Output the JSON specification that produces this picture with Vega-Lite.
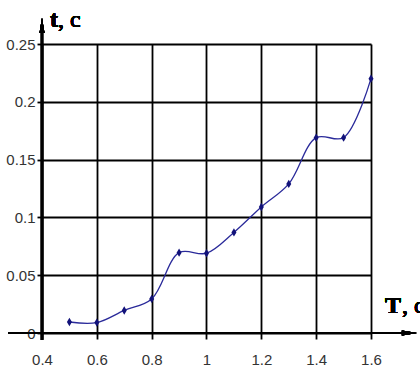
{
  "$schema": "https://vega.github.io/schema/vega-lite/v6.json",
  "width": 329,
  "height": 289,
  "autosize": {"type": "none"},
  "padding": {"left": 42, "top": 44, "right": 49, "bottom": 38},
  "background": "white",
  "config": {"view": {"stroke": null}},
  "data": {"values": [
    {"T": 0.5, "t": 0.0095},
    {"T": 0.6, "t": 0.009},
    {"T": 0.7, "t": 0.0195},
    {"T": 0.8, "t": 0.0295},
    {"T": 0.9, "t": 0.0695},
    {"T": 1.0, "t": 0.069},
    {"T": 1.1, "t": 0.087},
    {"T": 1.2, "t": 0.109},
    {"T": 1.3, "t": 0.129},
    {"T": 1.4, "t": 0.169},
    {"T": 1.5, "t": 0.169},
    {"T": 1.6, "t": 0.22}
  ]},
  "encoding": {
    "x": {
      "field": "T", "type": "quantitative",
      "scale": {"domain": [0.4, 1.6], "nice": false, "zero": false},
      "axis": {
        "title": null, "values": [0.4, 0.6, 0.8, 1.0, 1.2, 1.4, 1.6],
        "grid": true, "gridColor": "black", "gridWidth": 1.8, "gridOpacity": 1,
        "domain": false, "ticks": true, "tickColor": "black", "tickWidth": 1.8, "tickSize": 6,
        "labelFont": "Liberation Sans Narrow, Liberation Sans", "labelFontSize": 15, "labelColor": "#333",
        "labelPadding": 13, "labelFlush": false,
        "labelExpr": "datum.value == 1 ? '1' : format(datum.value, '.1f')"
      }
    },
    "y": {
      "field": "t", "type": "quantitative",
      "scale": {"domain": [0, 0.25], "nice": false},
      "axis": {
        "title": null, "values": [0, 0.05, 0.1, 0.15, 0.2, 0.25],
        "grid": true, "gridColor": "black", "gridWidth": 1.8, "gridOpacity": 1,
        "domain": false, "ticks": true, "tickColor": "black", "tickWidth": 1.8, "tickSize": 5,
        "labelFont": "Liberation Sans Narrow, Liberation Sans", "labelFontSize": 15, "labelColor": "#333",
        "labelPadding": 2, "labelFlush": false,
        "labelExpr": "datum.value == 0 ? '0' : format(datum.value, '.2~f')"
      }
    }
  },
  "layer": [
    {
      "mark": {"type": "rule", "color": "black", "strokeWidth": 2.2},
      "encoding": {"x": {"datum": 0.276}, "x2": {"datum": 1.73}, "y": {"datum": 0}}
    },
    {
      "mark": {"type": "rule", "color": "black", "strokeWidth": 2.2},
      "encoding": {"x": {"datum": 0.4}, "y": {"datum": -0.006}, "y2": {"datum": 0.26}}
    },
    {
      "mark": {"type": "point", "shape": "M-1,-0.33L1,0L-1,0.33Z", "filled": true, "color": "black", "opacity": 1, "size": 225},
      "encoding": {"x": {"datum": 1.74}, "y": {"datum": 0}}
    },
    {
      "mark": {"type": "point", "shape": "M-0.33,1L0,-1L0.33,1Z", "filled": true, "color": "black", "opacity": 1, "size": 225},
      "encoding": {"x": {"datum": 0.4}, "y": {"datum": 0.266}}
    },
    {
      "mark": {"type": "line", "interpolate": "catmull-rom", "color": "#2a2a9a", "strokeWidth": 1.3}
    },
    {
      "mark": {"type": "point", "shape": "M0,-1L0.6,0L0,1L-0.6,0Z", "filled": true, "color": "#12127a", "opacity": 1, "size": 70}
    },
    {
      "mark": {"type": "text", "text": "t", "font": "Liberation Serif", "fontWeight": "bold", "fontSize": 24, "align": "left", "baseline": "alphabetic", "color": "black"},
      "encoding": {"x": {"datum": 0.429}, "y": {"datum": 0.2647}}
    },
    {
      "mark": {"type": "text", "text": ", c", "font": "Liberation Serif", "fontWeight": "normal", "fontSize": 24, "align": "left", "baseline": "alphabetic", "color": "black"},
      "encoding": {"x": {"datum": 0.458}, "y": {"datum": 0.2647}}
    },
    {
      "mark": {"type": "text", "text": "T", "font": "Liberation Serif", "fontWeight": "bold", "fontSize": 24, "align": "left", "baseline": "alphabetic", "color": "black"},
      "encoding": {"x": {"datum": 1.651}, "y": {"datum": 0.0173}}
    },
    {
      "mark": {"type": "text", "text": ", c", "font": "Liberation Serif", "fontWeight": "normal", "fontSize": 24, "align": "left", "baseline": "alphabetic", "color": "black"},
      "encoding": {"x": {"datum": 1.713}, "y": {"datum": 0.0173}}
    }
  ]
}
